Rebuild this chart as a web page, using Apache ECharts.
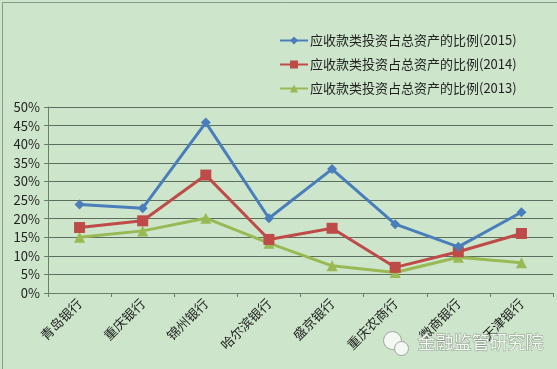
<!DOCTYPE html>
<html><head><meta charset="utf-8">
<script src="https://cdn.jsdelivr.net/npm/echarts@6/dist/echarts.min.js"></script>
<style>html,body{margin:0;padding:0;background:#cde6cb;}#c{width:557px;height:369px;}</style>
</head><body><div id="c"></div>
<script>
const categories = ['青岛银行','重庆银行','锦州银行','哈尔滨银行','盛京银行','重庆农商行','徽商银行','天津银行'];
const seriesNames = ['应收款类投资占总资产的比例(2015)','应收款类投资占总资产的比例(2014)','应收款类投资占总资产的比例(2013)'];
const values2015 = [23.8, 22.8, 45.8, 20.1, 33.3, 18.5, 12.4, 21.7];
const values2014 = [17.6, 19.4, 31.7, 14.4, 17.4, 6.9, 11.1, 16.0];
const values2013 = [15.0, 16.7, 20.1, 13.4, 7.3, 5.5, 9.6, 8.1];
const yTicks = [0, 5, 10, 15, 20, 25, 30, 35, 40, 45, 50];
const watermark = '金融监管研究院';

const chart = echarts.init(document.getElementById('c'));
const font = '"Noto Sans CJK SC", "Microsoft YaHei", sans-serif';
const colors = ['#4a7ebb', '#be4b48', '#98b954'];
const symbols = ['diamond', 'rect', 'triangle'];
const sizes = [10, 11, 11];
const data = [values2015, values2014, values2013];
chart.setOption({
  backgroundColor: '#cde6cb',
  animation: false,
  textStyle: { fontFamily: font },
  legend: {
    orient: 'vertical', left: 274, top: 29, itemGap: 11,
    itemWidth: 28, itemHeight: 10,
    textStyle: { fontSize: 13, color: '#222', fontFamily: font, padding: [0, 0, 0, -3] },
    data: seriesNames
  },
  grid: { left: 48, right: 4, top: 107, bottom: 76 },
  xAxis: {
    type: 'category', data: categories, boundaryGap: true,
    axisLine: { lineStyle: { color: '#6b7d6b', width: 1 } },
    axisTick: { show: true, alignWithLabel: false, length: 4, lineStyle: { color: '#6b7d6b' } },
    axisLabel: { rotate: 45, fontSize: 13, color: '#222', margin: 8, interval: 0, fontFamily: font }
  },
  yAxis: {
    type: 'value', min: yTicks[0], max: yTicks[yTicks.length - 1], interval: 5,
    axisLine: { show: true, lineStyle: { color: '#6b7d6b' } },
    axisTick: { show: true, length: 4, lineStyle: { color: '#6b7d6b' } },
    axisLabel: { formatter: v => v + '%', fontSize: 13, color: '#222', margin: 8, fontFamily: font },
    splitLine: { lineStyle: { color: '#5e6e5e', width: 1 } }
  },
  series: seriesNames.map((n, i) => ({
    name: n, type: 'line', data: data[i],
    symbol: symbols[i], symbolSize: sizes[i],
    lineStyle: { color: colors[i], width: 3 },
    itemStyle: { color: colors[i] },
    z: 10 - i
  })),
  graphic: [{
    type: 'rect', left: 0, top: 0, z: 100, silent: true,
    shape: { width: 556, height: 368 }, style: { fill: 'none', stroke: '#8a9a8a', lineWidth: 1 }
  }, {
    type: 'text', left: 417, top: 333, z: 100,
    style: { text: watermark, fontSize: 18, fontFamily: font, fill: '#f4f8f2', stroke: '#8a9a8a', lineWidth: 1 }
  }, {
    type: 'circle', left: 383, top: 331, z: 100,
    shape: { r: 9 }, style: { fill: '#f4f8f2', stroke: '#9aa89a' }
  }, {
    type: 'circle', left: 394, top: 341, z: 100,
    shape: { r: 7 }, style: { fill: '#f4f8f2', stroke: '#9aa89a' }
  }]
});
</script></body></html>
